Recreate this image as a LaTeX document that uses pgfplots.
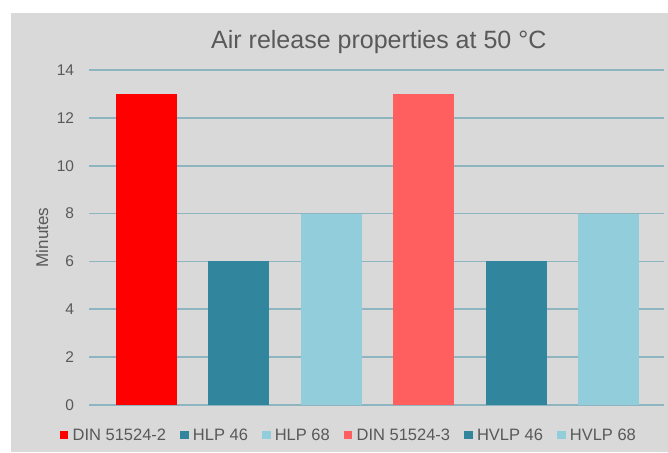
\documentclass[border=0pt]{standalone}
\usepackage{pgfplots}
\pgfplotsset{compat=1.18}
\usepackage{fontspec}
\setmainfont{Liberation Sans}

\definecolor{chartbg}{HTML}{D9D9D9}
\definecolor{gridc}{HTML}{8DB4BF}
\definecolor{txt}{HTML}{595959}
\definecolor{cRed}{HTML}{FF0000}
\definecolor{cTeal}{HTML}{31859C}
\definecolor{cLight}{HTML}{92CDDC}
\definecolor{cSalmon}{HTML}{FF5F5F}

\begin{document}
\begin{tikzpicture}[x=1pt,y=1pt]
\path[use as bounding box] (0,0) rectangle (668,452);
\fill[chartbg] (11,0) rectangle (668,439);
\begin{axis}[
  at={(89pt,47pt)}, anchor=south west,
  scale only axis, width=575pt, height=335pt,
  xmin=-0.622, xmax=5.6, ymin=0, ymax=14,
  ytick={0,2,...,14}, xtick=\empty,
  axis line style={draw=none},
  major tick style={draw=none},
  ymajorgrids, major grid style={gridc, line width=1.6pt},
  /pgf/number format/assume math mode=true,
  yticklabel style={anchor=east, inner sep=0pt, xshift=-14.7pt,
    font=\fontsize{15.5}{18}\selectfont, text=txt},
  ylabel={Minutes},
  every axis y label/.style={at={(axis description cs:-0.0817,0.5)},
    rotate=90, anchor=center, font=\fontsize{17}{20}\selectfont, text=txt},
  title={Air release properties at 50 °C},
  every axis title/.style={at={(axis description cs:0.504,1.0648)},
    anchor=base, font=\fontsize{25}{30}\selectfont, text=txt},
  legend columns=6,
  legend style={at={(axis description cs:-0.0504,-0.0896)}, anchor=west,
    draw=none, fill=none, inner sep=0pt, outer sep=0pt,
    nodes={inner sep=0pt, text=txt, font=\fontsize{16.5}{19}\selectfont},
    /tikz/every odd column/.append style={column sep=4.3pt},
    /tikz/every even column/.append style={column sep=14.2pt}},
  legend image code/.code={\fill[#1] (0pt,-4.15pt) rectangle (8.3pt,4.15pt);},
]
\addplot[ybar, bar width=0.66, bar shift=0pt, fill=cRed, draw=none] coordinates {(0,13)};
\addlegendentry{DIN 51524-2}
\addplot[ybar, bar width=0.66, bar shift=0pt, fill=cTeal, draw=none] coordinates {(1,6)};
\addlegendentry{HLP 46}
\addplot[ybar, bar width=0.66, bar shift=0pt, fill=cLight, draw=none] coordinates {(2,8)};
\addlegendentry{HLP 68}
\addplot[ybar, bar width=0.66, bar shift=0pt, fill=cSalmon, draw=none] coordinates {(3,13)};
\addlegendentry{DIN 51524-3}
\addplot[ybar, bar width=0.66, bar shift=0pt, fill=cTeal, draw=none] coordinates {(4,6)};
\addlegendentry{HVLP 46}
\addplot[ybar, bar width=0.66, bar shift=0pt, fill=cLight, draw=none] coordinates {(5,8)};
\addlegendentry{HVLP 68}
\end{axis}
\end{tikzpicture}
\end{document}
